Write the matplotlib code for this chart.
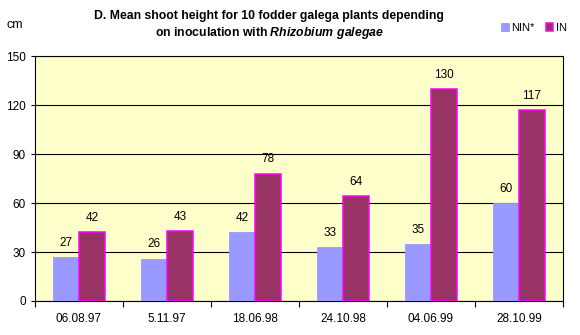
import matplotlib
matplotlib.use("Agg")
import matplotlib.pyplot as plt
import numpy as np

plt.rcParams['font.family'] = ['Liberation Sans', 'DejaVu Sans']
plt.rcParams['mathtext.fontset'] = 'custom'
plt.rcParams['mathtext.bfit'] = 'Liberation Sans:italic:bold'
plt.rcParams['mathtext.rm'] = 'Liberation Sans'

dates = ["06.08.97", "5.11.97", "18.06.98", "24.10.98", "04.06.99", "28.10.99"]
nin = [27, 26, 42, 33, 35, 60]
inoc = [42, 43, 78, 64, 130, 117]

fig = plt.figure(figsize=(5.8, 3.35), dpi=100)
ax = fig.add_axes([0.0603, 0.1015, 0.9104, 0.7313])
ax.set_facecolor("#FFFFCC")

x = np.arange(len(dates))
w = 0.295
b1 = ax.bar(x - w / 2, nin, w, color="#9999FF", edgecolor="#9999FF", linewidth=0.6, label="NIN*", zorder=3)
b2 = ax.bar(x + w / 2, inoc, w, color="#993366", edgecolor="#FF00FF", linewidth=1.1, label="IN", zorder=3)

for rect, v in zip(list(b1) + list(b2), nin + inoc):
    ax.text(rect.get_x() + rect.get_width() / 2, v + 5, str(v),
            ha="center", va="bottom", fontsize=8.5, zorder=4)

ax.set_xlim(-0.5, len(dates) - 0.5)
ax.set_ylim(0, 150)
ax.set_yticks(range(0, 151, 30))
ax.yaxis.grid(True, color="black", linewidth=0.8, zorder=1)
ax.set_xticks(x)
ax.set_xticklabels(dates, fontsize=8.5)
ax.tick_params(axis="x", length=0, pad=9)
ax.set_xticks(np.arange(-0.5, len(dates), 1), minor=True)
ax.tick_params(axis="x", which="minor", length=4, width=0.8, direction="out")
ax.tick_params(axis="y", labelsize=8.5, length=3, width=0.8)
for s in ax.spines.values():
    s.set_color("black")
    s.set_linewidth(0.8)

fig.text(0.012, 0.925, "cm", fontsize=9, ha="left", va="center")
fig.text(0.464, 0.952, "D. Mean shoot height for 10 fodder galega plants depending",
         fontsize=8.8, fontweight="bold", ha="center", va="center")
fig.text(0.464, 0.901, "on inoculation with $\\mathbfit{Rhizobium\\ galegae}$",
         fontsize=8.8, fontweight="bold", ha="center", va="center")

leg = ax.legend(loc="center right", bbox_to_anchor=(0.977, 0.916), bbox_transform=fig.transFigure,
                ncol=2, frameon=False, fontsize=8, handlelength=0.7, handleheight=0.7,
                handletextpad=0.2, columnspacing=1.0, borderaxespad=0, borderpad=0)

fig.savefig("out.png", dpi=100)
